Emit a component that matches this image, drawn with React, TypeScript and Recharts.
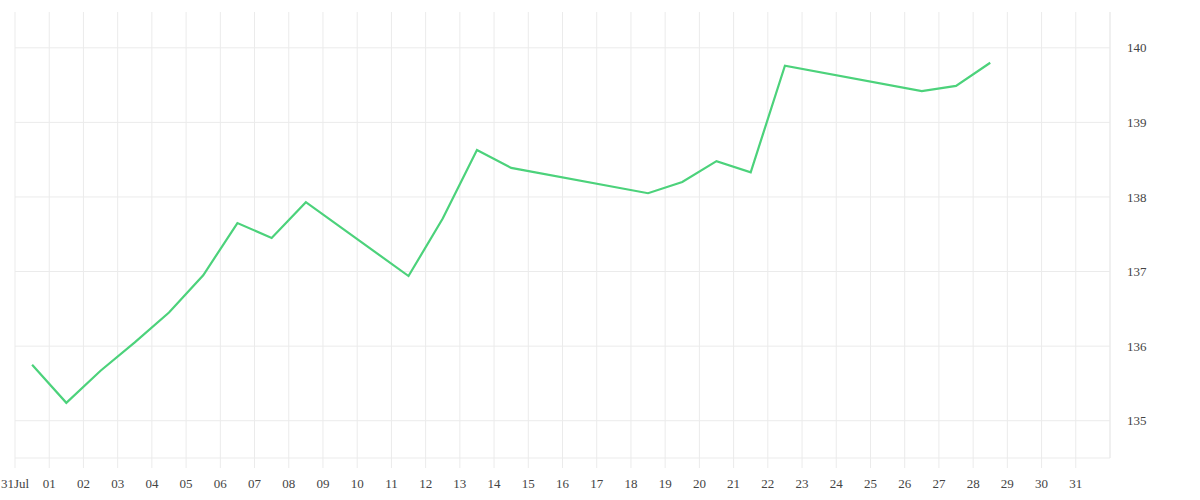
import React from "react";
import { LineChart, Line, XAxis, YAxis, CartesianGrid, ReferenceLine } from "recharts";

// day offset from 31 Jul (points sit at mid-day)
const days = [0.5, 1.5, 2.5, 3.5, 4.5, 5.5, 6.5, 7.5, 8.5, 11.5, 12.5, 13.5, 14.5, 18.5, 19.5, 20.5, 21.5, 22.5, 26.5, 27.5, 28.5];
const prices = [135.75, 135.24, 135.67, 136.05, 136.45, 136.95, 137.65, 137.45, 137.93, 136.94, 137.71, 138.63, 138.39, 138.05, 138.2, 138.48, 138.33, 139.76, 139.42, 139.49, 139.8];
const dayTicks = Array.from({ length: 32 }, (_, i) => i);
const dayLabels = ["31Jul", "01", "02", "03", "04", "05", "06", "07", "08", "09", "10", "11", "12", "13", "14", "15", "16", "17", "18", "19", "20", "21", "22", "23", "24", "25", "26", "27", "28", "29", "30", "31"];
const priceTicks = [135, 136, 137, 138, 139, 140];

const data = days.map((d, i) => ({ day: d, price: prices[i] }));

const GRID = "#ebebeb";

export default function App() {
  return (
    <div style={{ position: "absolute", left: 0, top: 0, background: "#fff" }}>
      <LineChart width={1200} height={500} data={data} margin={{ top: 12, right: 0, left: 15, bottom: 12 }}>
        <CartesianGrid stroke={GRID} strokeWidth={1} horizontal={false} />
        {priceTicks.map((t) => (
          <ReferenceLine key={t} y={t} stroke={GRID} strokeWidth={1} />
        ))}
        <XAxis
          dataKey="day"
          type="number"
          domain={[0, 32]}
          ticks={dayTicks}
          interval={0}
          tickFormatter={(v) => dayLabels[v]}
          height={30}
          tickSize={10}
          tickMargin={11}
          axisLine={{ stroke: GRID }}
          tickLine={{ stroke: GRID }}
          tick={{ fontSize: 13, fill: "#444" }}
        />
        <YAxis
          orientation="right"
          type="number"
          domain={[134.5, 140.48]}
          ticks={priceTicks}
          allowDataOverflow
          width={90}
          tickLine={false}
          tickMargin={11}
          axisLine={{ stroke: GRID }}
          tick={{ fontSize: 13, fill: "#444", textAnchor: "start" }}
        />
        <Line
          type="linear"
          dataKey="price"
          stroke="#4cd27b"
          strokeWidth={2.2}
          dot={false}
          isAnimationActive={false}
        />
      </LineChart>
    </div>
  );
}
